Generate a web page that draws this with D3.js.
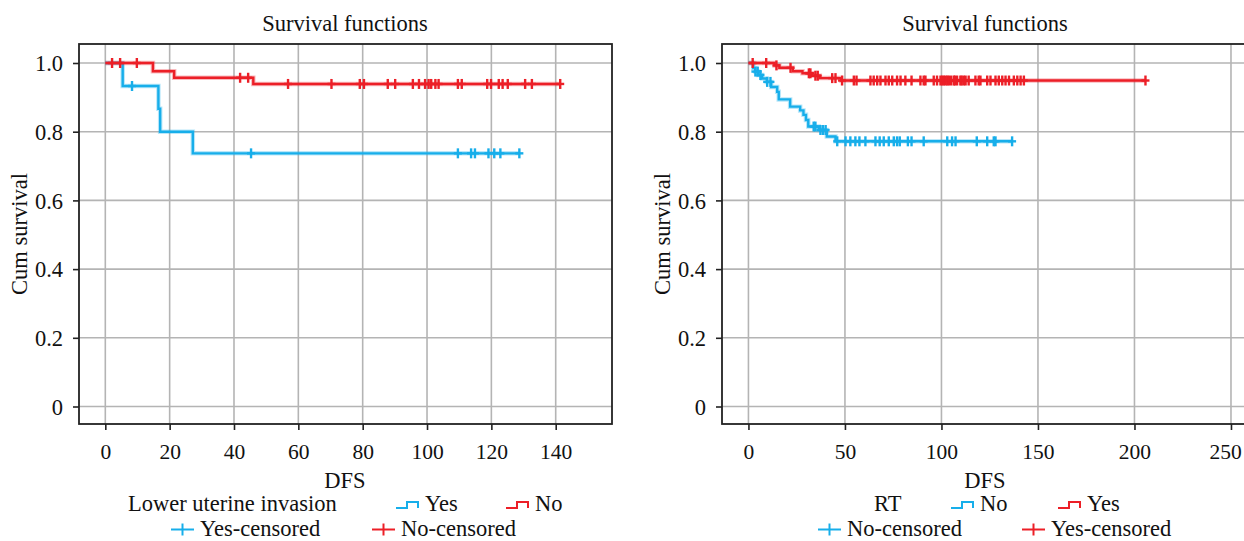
<!DOCTYPE html>
<html><head><meta charset="utf-8">
<script src="https://cdn.jsdelivr.net/npm/d3@7"></script>
<style>
body{margin:0;background:#fff}
svg{display:block}
text{font-family:"Liberation Serif","Times New Roman",serif;fill:#111}
</style>
</head><body>
<svg id="c" width="1244" height="541"></svg>
<script>
// ---------- Data: left chart (Lower uterine invasion) ----------
const luiYesStepTimes = [0, 5.4, 16.5, 17.05, 27.2];
const luiYesStepSurv  = [1.0, 0.933, 0.867, 0.800, 0.737];
const luiYesCensored  = [8.3, 45.3, 109.6, 113.7, 114.9, 119.1, 120.9, 122.8, 128.7];
const luiNoStepTimes  = [0, 14.8, 21.4, 46.0];
const luiNoStepSurv   = [1.0, 0.976, 0.957, 0.939];
const luiNoCensored   = [2.1, 4.6, 9.8, 41.9, 44.4, 56.8, 70.3, 79.1, 80.4, 87.8, 90.1, 95.6, 97.5, 99.4,
                         100.5, 101.3, 102.6, 103.6, 109.6, 110.8, 118.7, 119.9, 122.3, 123.5, 125.1, 130.5, 132.6, 141.4];
const leftXTicks = [0, 20, 40, 60, 80, 100, 120, 140];

// ---------- Data: right chart (RT) ----------
const rtNoStepTimes = [0, 2.5, 3.5, 5.0, 7.1, 9.5, 11.8, 14.9, 15.7, 21.6, 26.8, 28.5, 29.8, 31.0, 36.4, 40.6, 45.1];
const rtNoStepSurv  = [1.0, 0.985, 0.975, 0.965, 0.955, 0.945, 0.930, 0.916, 0.894, 0.873, 0.862, 0.849, 0.834, 0.815, 0.805, 0.786, 0.772];
const rtNoCensored  = [3.6, 4.8, 6.2, 9.7, 11.4, 33.8, 34.7, 37.3, 38.6, 40.0, 46.0, 50.3, 52.8, 55.4, 57.5, 60.6,
                       65.8, 68.0, 70.1, 72.7, 75.3, 77.0, 78.4, 82.6, 84.5, 90.8, 103.0, 105.5, 107.3, 118.3, 123.7, 127.1, 128.0, 136.6];
const rtYesStepTimes = [0, 13.5, 16.0, 23.0, 28.0, 33.0, 37.0, 48.0];
const rtYesStepSurv  = [1.0, 0.993, 0.986, 0.976, 0.970, 0.963, 0.956, 0.949];
const rtYesCensored  = [2.2, 9.2, 14.5, 21.8, 31.3, 32.1, 34.7, 35.9, 43.4, 45.1, 48.5, 54.6, 56.0, 63.2, 64.9, 66.7, 68.4,
                        71.0, 72.7, 74.5, 77.0, 78.8, 81.3, 84.5, 89.1, 90.8, 91.7, 96.0, 97.7, 99.5, 100.4, 101.2, 102.1,
                        103.0, 103.8, 105.0, 106.4, 107.0, 108.1, 109.8, 110.5, 111.6, 112.5, 114.1, 117.6, 119.3, 120.2,
                        123.7, 125.4, 128.0, 129.7, 131.5, 133.2, 135.0, 137.5, 139.3, 141.0, 142.7, 205.7];
const rightXTicks = [0, 50, 100, 150, 200, 250];

const yTicks = [0, 0.2, 0.4, 0.6, 0.8, 1.0];
const yTickLabels = ["0", "0.2", "0.4", "0.6", "0.8", "1.0"];

const BLUE = "#17aeea", RED = "#ec1f27";
const FS = 22.5, TFS = 21.5;
const svg = d3.select("#c");

function survAt(times, surv, t) {
  let s = surv[0];
  for (let i = 0; i < times.length; i++) if (times[i] <= t) s = surv[i];
  return s;
}

function drawPlot(cfg) {
  const g = svg.append("g");
  const x = d3.scaleLinear().domain(cfg.xDomain).range([cfg.left, cfg.right]);
  const y = d3.scaleLinear().domain([0, 1]).range([406.5, 63]);
  const top = 44, bottom = 424;

  // grid
  g.selectAll(".gx").data(cfg.xTicks).join("line")
    .attr("x1", d => x(d)).attr("x2", d => x(d)).attr("y1", top).attr("y2", bottom)
    .attr("stroke", "#b4b4b4").attr("stroke-width", 1.6);
  g.selectAll(".gy").data(yTicks).join("line")
    .attr("x1", cfg.left).attr("x2", cfg.right).attr("y1", d => y(d)).attr("y2", d => y(d))
    .attr("stroke", "#b4b4b4").attr("stroke-width", 1.6);

  // axes
  const xAxis = d3.axisBottom(x).tickValues(cfg.xTicks).tickSize(6).tickPadding(8).tickFormat(d3.format("d"));
  const ax = g.append("g").attr("transform", `translate(0,${bottom})`).call(xAxis);
  const yAxis = d3.axisLeft(y).tickValues(yTicks).tickSize(6).tickPadding(10).tickFormat((d, i) => yTickLabels[i]);
  const ay = g.append("g").attr("transform", `translate(${cfg.left},0)`).call(yAxis);
  [ax, ay].forEach(a => {
    a.select(".domain").remove();
    a.selectAll(".tick line").attr("stroke", "#222").attr("stroke-width", 1.6);
    a.selectAll(".tick text").attr("font-size", FS).attr("font-family", '"Liberation Serif",serif').attr("fill", "#111");
  });
  ax.selectAll(".tick text").attr("font-size", TFS).attr("dy", "0.98em")
    .attr("dx", d => Math.min(0, 1241 - (x(d) + 16)));
  ay.selectAll(".tick text").attr("dy", "0.34em");

  // series
  const line = d3.line().x(d => x(d[0])).y(d => y(d[1])).curve(d3.curveStepAfter);
  cfg.series.forEach(s => {
    const tEnd = Math.max(d3.max(s.times), d3.max(s.censored));
    const pts = s.times.map((t, i) => [t, s.surv[i]]);
    pts.push([tEnd, s.surv[s.surv.length - 1]]);
    g.append("path").attr("d", line(pts)).attr("fill", "none")
      .attr("stroke", s.color).attr("stroke-opacity", 0.3).attr("stroke-width", 4.5);
    g.append("path").attr("d", line(pts)).attr("fill", "none")
      .attr("stroke", s.color).attr("stroke-width", 2.4);
    const cs = g.append("g");
    s.censored.forEach(t => {
      const cx = x(t), cy = y(survAt(s.times, s.surv, t));
      cs.append("line").attr("x1", cx).attr("x2", cx).attr("y1", cy - 5).attr("y2", cy + 5)
        .attr("stroke", s.color).attr("stroke-width", 2.4);
      cs.append("line").attr("x1", cx - 4).attr("x2", cx + 4).attr("y1", cy).attr("y2", cy)
        .attr("stroke", s.color).attr("stroke-width", 2.4);
    });
  });

  // frame
  g.append("rect").attr("x", cfg.left).attr("y", top).attr("width", cfg.right - cfg.left).attr("height", bottom - top)
    .attr("fill", "none").attr("stroke", "#222").attr("stroke-width", 1.8);

  // titles
  const cx = cfg.titleX;
  g.append("text").attr("x", cx).attr("y", 31).attr("text-anchor", "middle").attr("font-size", FS).text("Survival functions");
  g.append("text").attr("x", cx).attr("y", 488).attr("text-anchor", "middle").attr("font-size", FS).text("DFS");
  g.append("text").attr("transform", `translate(${cfg.ylabelX},${(top + bottom) / 2}) rotate(-90)`)
    .attr("text-anchor", "middle").attr("font-size", FS).text("Cum survival");

  // legend
  const L = cfg.legend;
  g.append("text").attr("x", L.titleX).attr("y", 511).attr("font-size", FS).text(L.title);
  L.steps.forEach(st => {
    g.append("path").attr("d", `M${st.x},508 H${st.x + 11} V502 H${st.x + 22} V508`)
      .attr("fill", "none").attr("stroke", st.color).attr("stroke-width", 2);
    g.append("text").attr("x", st.x + 29).attr("y", 511).attr("font-size", FS).text(st.label);
  });
  L.plus.forEach(p => {
    g.append("line").attr("x1", p.x).attr("x2", p.x + 23).attr("y1", 529.5).attr("y2", 529.5)
      .attr("stroke", p.color).attr("stroke-width", 2);
    g.append("line").attr("x1", p.x + 11.5).attr("x2", p.x + 11.5).attr("y1", 523.5).attr("y2", 535.5)
      .attr("stroke", p.color).attr("stroke-width", 2);
    g.append("text").attr("x", p.x + 29).attr("y", 536).attr("font-size", FS).text(p.label);
  });
}

drawPlot({
  left: 79, right: 612, xDomain: [-8.18, 157.5], xTicks: leftXTicks, titleX: 345, ylabelX: 27,
  series: [
    {times: luiYesStepTimes, surv: luiYesStepSurv, censored: luiYesCensored, color: BLUE},
    {times: luiNoStepTimes, surv: luiNoStepSurv, censored: luiNoCensored, color: RED}
  ],
  legend: {
    title: "Lower uterine invasion", titleX: 128,
    steps: [{x: 396, color: BLUE, label: "Yes"}, {x: 506, color: RED, label: "No"}],
    plus: [{x: 171, color: BLUE, label: "Yes-censored"}, {x: 372, color: RED, label: "No-censored"}]
  }
});

drawPlot({
  left: 722, right: 1247, xDomain: [-13.7, 258.3], xTicks: rightXTicks, titleX: 985, ylabelX: 670,
  series: [
    {times: rtNoStepTimes, surv: rtNoStepSurv, censored: rtNoCensored, color: BLUE},
    {times: rtYesStepTimes, surv: rtYesStepSurv, censored: rtYesCensored, color: RED}
  ],
  legend: {
    title: "RT", titleX: 874,
    steps: [{x: 951, color: BLUE, label: "No"}, {x: 1058, color: RED, label: "Yes"}],
    plus: [{x: 818, color: BLUE, label: "No-censored"}, {x: 1022, color: RED, label: "Yes-censored"}]
  }
});
</script>
</body></html>
